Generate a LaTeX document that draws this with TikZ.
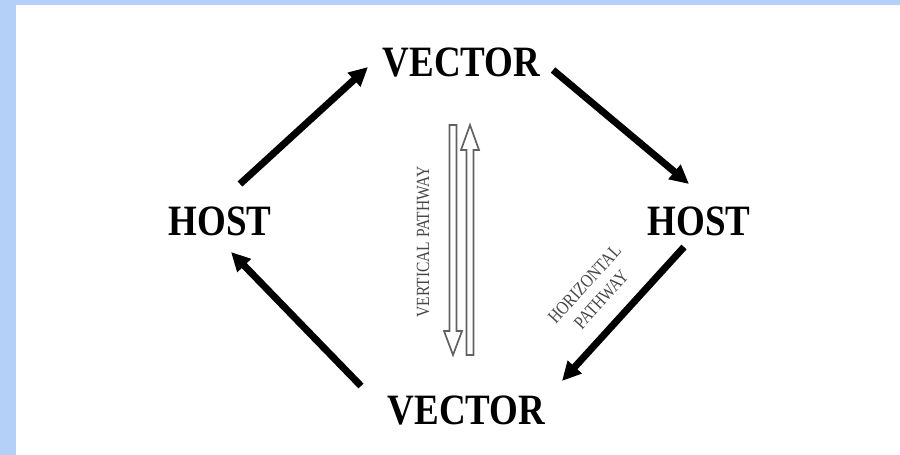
\documentclass[tikz,border=0pt]{standalone}
\usepackage{fontspec}
\setmainfont{Liberation Serif}
\usetikzlibrary{arrows.meta}
\definecolor{bgblue}{HTML}{B4D0F8}
\begin{document}
\begin{tikzpicture}[x=1pt,y=-1pt,
  lbl/.style={font=\fontsize{37}{40}\selectfont\bfseries, inner sep=0pt},
  cyc/.style={line width=7pt, -{Triangle[length=19pt,width=18pt]}},
  pathtxt/.style={font=\fontsize{15.5}{19}\selectfont, text=black!72, inner sep=0pt},
  hollow/.style={draw=black!62, fill=white, line width=1.7pt, line join=miter}]
\useasboundingbox (0,0) rectangle (900,455);
\fill[bgblue] (0,0) rectangle (900,455);
\fill[white] (16,5) rectangle (900,455);
% labels
\node[lbl] (vtop) at (461.5,62.5) {\scalebox{1}[1.17]{VECTOR}};
\node[lbl] (vbot) at (466.5,410.5) {\scalebox{1}[1.17]{VECTOR}};
\node[lbl] (hleft) at (220,221) {\scalebox{1}[1.17]{HOST}};
\node[lbl] (hright) at (699,221) {\scalebox{1}[1.17]{HOST}};
% connector ends
\coordinate (a1s) at (240,184); \coordinate (a1e) at (368,67);
\coordinate (a2s) at (553,70);  \coordinate (a2e) at (689,184);
\coordinate (a3s) at (684,247); \coordinate (a3e) at (562,381);
\coordinate (a4s) at (361,386); \coordinate (a4e) at (231,252);
\draw[cyc] (a1s) -- (a1e);
\draw[cyc] (a2s) -- (a2e);
\draw[cyc] (a3s) -- (a3e);
\draw[cyc] (a4s) -- (a4e);
% vertical pathway hollow arrows
\draw[hollow] (449.5,125) -- (456.5,125) -- (456.5,331) -- (462,331) -- (453,355) -- (444,331) -- (449.5,331) -- cycle;
\draw[hollow] (466.5,355) -- (473.5,355) -- (473.5,150) -- (479,150) -- (470,125) -- (461,150) -- (466.5,150) -- cycle;
% pathway texts
\node[pathtxt, rotate=90] (vtxt) at (423,242) {\scalebox{1}[1.2]{VERTICAL PATHWAY}};
\node[pathtxt, rotate=47.7] (htxt) at (594,293) {\scalebox{1}[1.2]{\begin{tabular}{@{}c@{}}HORIZONTAL\\PATHWAY\end{tabular}}};
\end{tikzpicture}
\end{document}
